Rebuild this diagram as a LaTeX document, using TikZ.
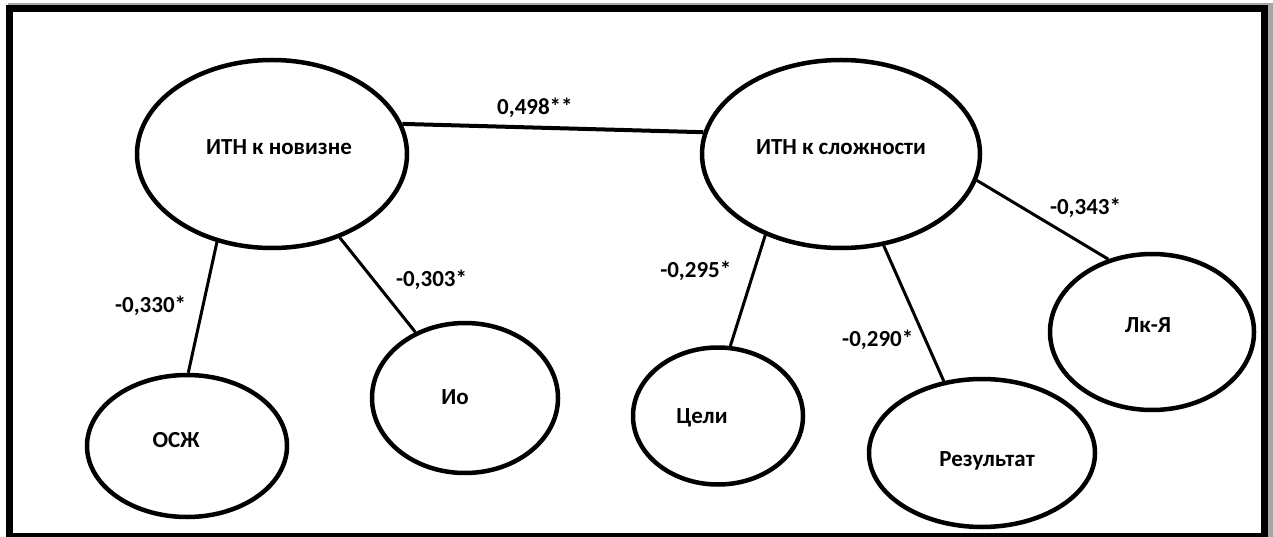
\documentclass[tikz,border=0pt]{standalone}
\usepackage{fontspec}
\setmainfont{Carlito}
\usetikzlibrary{shapes.geometric}

\begin{document}
\begin{tikzpicture}[x=1pt, y=-1pt, font=\fontsize{23}{27}\selectfont\bfseries,
  blob/.style={ellipse, draw=black, line width=4.5pt, inner sep=0pt, fill=white},
  link/.style={line width=3pt},
  coef/.style={inner sep=0pt}]

\useasboundingbox (0,0) rectangle (1273,537);
\fill[black!35] (8,3) rectangle (1273,537);
\draw[line width=7pt, fill=white] (9.5,9) rectangle (1264,536.5);

\node[blob, minimum width=270, minimum height=188, label={[xshift=7, yshift=7]center:ИТН к новизне}] (nov) at (272,154) {};
\node[blob, minimum width=278, minimum height=188, label={[yshift=7]center:ИТН к сложности}] (slo) at (841,154) {};
\node[blob, minimum width=200, minimum height=142, label={[xshift=-11, yshift=6]center:ОСЖ}] (osj) at (187,446) {};
\node[blob, minimum width=186, minimum height=150, label={[xshift=-10, yshift=1]center:Ио}] (io) at (465,398) {};
\node[blob, minimum width=170, minimum height=137, label={[xshift=-16, yshift=-2]center:Цели}] (celi) at (718,416) {};
\node[blob, minimum width=226, minimum height=148, label={[xshift=5, yshift=-8]center:Результат}] (rez) at (982,453) {};
\node[blob, minimum width=204, minimum height=156, label={[xshift=-4, yshift=7]center:Лк-Я}] (lky) at (1152,332) {};

\draw[line width=4pt] (nov.13) edge node[coef, xshift=-18, yshift=20] (r1) {0,498**} (slo.171);
\draw[link] (nov.238) edge node[coef, xshift=-52, yshift=2] (r2) {-0,330*} (osj.89);
\draw[link] (nov.309) edge node[coef, xshift=54, yshift=5] (r3) {-0,303*} (io.127);
\draw[link] (slo.227) edge node[coef, xshift=-52, yshift=20] (r4) {-0,295*} (celi.80);
\draw[link] (slo.295) edge node[coef, xshift=-36, yshift=-26] (r5) {-0,290*} (rez.118);
\draw[link] (slo.349) edge node[coef, xshift=43, yshift=12] (r6) {-0,343*} (lky.121);

\end{tikzpicture}
\end{document}
